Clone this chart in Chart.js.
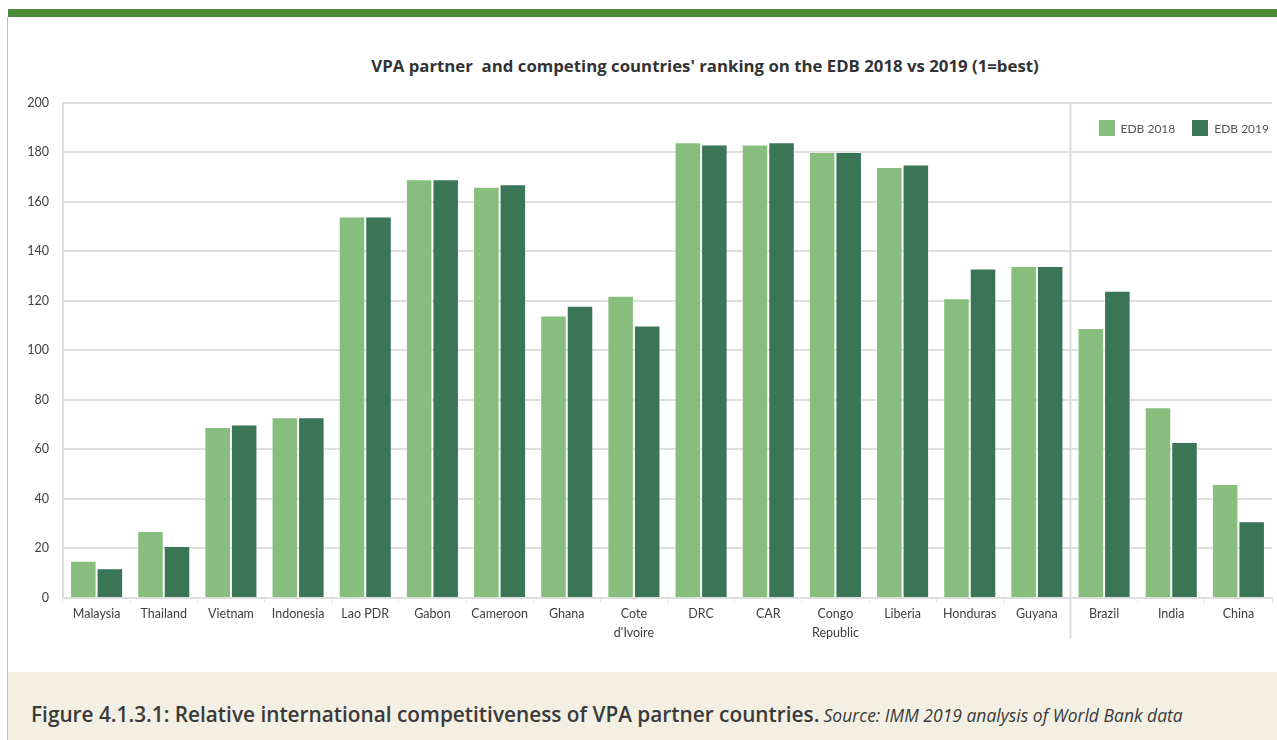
<!DOCTYPE html>
<html>
<head>
<meta charset="utf-8">
<script src="https://cdn.jsdelivr.net/npm/chart.js@4.4.1/dist/chart.umd.min.js"></script>
<style>
  html, body { margin: 0; padding: 0; background: #fff; }
  body { width: 1277px; height: 740px; position: relative; overflow: hidden; font-family: Lato, "Open Sans", sans-serif; }
  #topbar { position: absolute; left: 8px; top: 9px; width: 1269px; height: 8px; background: #4b8a35; }
  #leftline { position: absolute; left: 7px; top: 17px; width: 1px; height: 723px; background: #cfc48a; }
  #title { position: absolute; left: 133px; width: 1144px; top: 54px; text-align: center; font-family: "Open Sans", sans-serif; font-size: 16.8px; font-weight: bold; color: #333; white-space: pre; }
  #wrap { position: absolute; left: 8px; top: 81px; width: 1269px; height: 574px; }
  #legend { position: absolute; right: 8px; top: 120px; display: flex; gap: 17px; font-size: 12px; color: #555; white-space: nowrap; }
  #caption { position: absolute; left: 8px; top: 672px; width: 1269px; height: 68px; background: #f3efe3; }
  #caption p { margin: 0; position: absolute; left: 23px; top: 28px; color: #3a3a3a; white-space: nowrap; font-family: "Open Sans", sans-serif; }
  #caption b { font-size: 20.8px; font-weight: 600; }
  #caption i { font-size: 17.5px; }
</style>
</head>
<body>
<div id="topbar"></div>
<div id="leftline"></div>
<div id="title">VPA partner  and competing countries' ranking on the EDB 2018 vs 2019 (1=best)</div>
<div id="wrap"><canvas id="edb"></canvas></div>
<div id="legend"></div>
<div id="caption"><p><b>Figure 4.1.3.1: Relative international competitiveness of VPA partner countries.</b> <i>Source: IMM 2019 analysis of World Bank data</i></p></div>
<script>
const countries = ["Malaysia", "Thailand", "Vietnam", "Indonesia", "Lao PDR", "Gabon", "Cameroon", "Ghana",
  ["Cote", "d'Ivoire"], "DRC", "CAR", ["Congo", "Republic"], "Liberia", "Honduras", "Guyana", "Brazil", "India", "China"];
const edb2018 = [15, 27, 69, 73, 154, 169, 166, 114, 122, 184, 183, 180, 174, 121, 134, 109, 77, 46];
const edb2019 = [12, 21, 70, 73, 154, 169, 167, 118, 110, 183, 184, 180, 175, 133, 134, 124, 63, 31];
const yTicks = [0, 20, 40, 60, 80, 100, 120, 140, 160, 180, 200];
const vpaCount = 15; // first 15 are VPA partners, the rest are competitors

const light = "#87be7e";
const dark = "#3a7556";
const gridColor = "#dedede";
const tickFont = { family: "Lato, 'Open Sans', sans-serif", size: 12.5, lineHeight: 1.5 };

// vertical separator between VPA partners and competitors
const separator = {
  id: "separator",
  afterDraw: function (chart) {
    const x = chart.scales.x;
    const sx = (x.getPixelForValue(vpaCount - 1) + x.getPixelForValue(vpaCount)) / 2;
    const ctx = chart.ctx;
    ctx.save();
    ctx.strokeStyle = gridColor;
    ctx.lineWidth = 2;
    ctx.beginPath();
    ctx.moveTo(sx, chart.chartArea.top);
    ctx.lineTo(sx, chart.chartArea.bottom + 40);
    ctx.stroke();
    ctx.restore();
  }
};

const chart = new Chart(document.getElementById("edb"), {
  type: "bar",
  data: {
    labels: countries,
    datasets: [
      { label: "EDB 2018", data: edb2018, backgroundColor: light, borderColor: "rgba(255,255,255,0.35)", borderWidth: 1 },
      { label: "EDB 2019", data: edb2019, backgroundColor: dark, borderColor: "rgba(255,255,255,0.35)", borderWidth: 1 }
    ]
  },
  options: {
    responsive: true,
    maintainAspectRatio: false,
    animation: false,
    layout: { padding: { top: 7, right: 5, left: 0, bottom: 0 } },
    datasets: { bar: { categoryPercentage: 0.79, barPercentage: 1.0 } },
    plugins: { legend: { display: false }, tooltip: { enabled: false } },
    scales: {
      x: {
        grid: { display: true, drawOnChartArea: false, color: gridColor, tickLength: 5, offset: true },
        border: { color: gridColor, width: 2 },
        ticks: { color: "#404040", font: tickFont, maxRotation: 0, autoSkip: false, padding: 2 },
        afterFit: function (s) { s.height = 57; }
      },
      y: {
        min: 0,
        max: 200,
        afterBuildTicks: function (s) { s.ticks = yTicks.map(function (v) { return { value: v }; }); },
        grid: { color: gridColor, lineWidth: 2, drawTicks: false },
        border: { color: gridColor, width: 2 },
        ticks: { color: "#404040", font: { family: tickFont.family, size: 12.5 }, padding: 14 },
        afterFit: function (s) { s.width = 55; }
      }
    }
  },
  plugins: [separator]
});

document.getElementById("legend").innerHTML = chart.data.datasets.map(function (d) {
  return '<span style="display:inline-flex;align-items:center;gap:6px;">' +
    '<span style="display:inline-block;width:16px;height:16px;background:' + d.backgroundColor + ';"></span>' +
    '<span>' + d.label + '</span></span>';
}).join("");
</script>
</body>
</html>
